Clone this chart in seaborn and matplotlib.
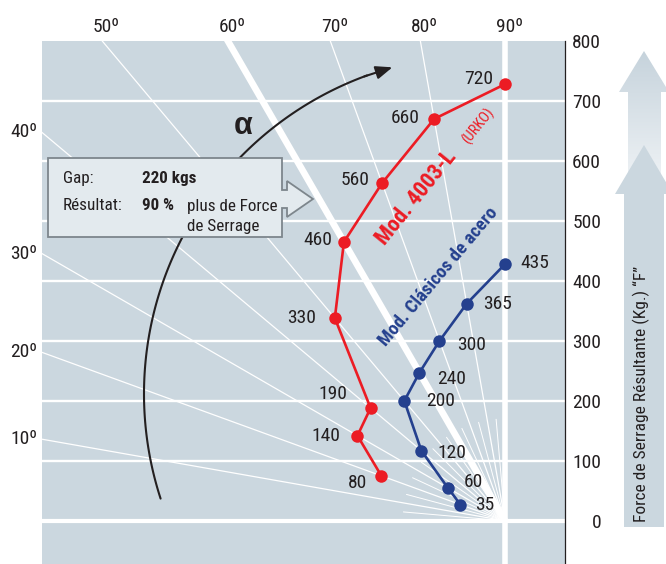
import numpy as np
import pandas as pd
import matplotlib.pyplot as plt
import seaborn as sns
from matplotlib.patches import Polygon
from matplotlib import font_manager

# angle of each measuring point (degrees from horizontal)
ANGLES = [20, 30, 40, 50, 60, 70, 80, 90]

# Mod. 4003-L (URKO): force labels and plotted height on the right axis
URKO_FORCE = [80, 140, 190, 330, 460, 560, 660, 720]
URKO_HEIGHT = [75, 142, 188, 338, 465, 563, 670, 728]

# Mod. Clásicos de acero
CLASSIC_FORCE = [35, 60, 120, 200, 240, 300, 365, 435]
CLASSIC_HEIGHT = [27, 55, 117, 200, 247, 300, 362, 428]

RAY_ANGLES = [10, 20, 30, 40, 50, 60, 70, 80]
SHORT_RAYS = [5, 15, 25, 35, 45, 55, 65, 75, 85]
TOP_ANGLES = [50, 60, 70, 80, 90]
LEFT_ANGLES = [10, 20, 30, 40]
Y_TICKS = [0, 100, 200, 300, 400, 500, 600, 700, 800]

RED = "#ec1c24"
BLUE = "#24408e"
BG = "#cbd7df"
INK = "#231f20"

# label offsets (pixels) relative to each point
URKO_OFFS = [(-24, -7), (-32, 0), (-38, 14), (-33, 0), (-26, 2), (-27, 3), (-29, 1), (-26, 5)]
CLASSIC_OFFS = [(24, 0), (26, 6), (31, -2), (36, 0), (32, -6), (32, -4), (31, 0), (30, 1)]

W, H = 666, 564
X0, X1 = -771.7, 100
Y0, Y1 = -72, 800

sns.set_style("white")
installed = {f.name for f in font_manager.fontManager.ttflist}
narrow = [f for f in ["Roboto Condensed", "Liberation Sans Narrow", "Open Sans Condensed",
                      "Arial Narrow", "DejaVu Sans Condensed"] if f in installed]
condensed = bool(narrow)
plt.rcParams["font.family"] = narrow + ["Liberation Sans", "DejaVu Sans"]
plt.rcParams["text.color"] = INK
k = 1.0 if condensed else 0.88   # shrink a little when only a wide face is available


def polar_xy(angles, heights):
    a = np.radians(angles)
    h = np.asarray(heights, dtype=float)
    return -h * np.cos(a) / np.sin(a), h


def px2data(px, py):
    return X0 + (px - 42) / 0.6, (521 - py) / 0.6


fig = plt.figure(figsize=(W / 100, H / 100), dpi=100)
ax = fig.add_axes([42 / W, 0, 523 / W, 523 / H])
ax.set_facecolor(BG)
ax.set_xlim(X0, X1)
ax.set_ylim(Y0, Y1)

# radial guide lines from the origin
for a in RAY_ANGLES:
    r = np.radians(a)
    ax.plot([0, -3000 * np.cos(r)], [0, 3000 * np.sin(r)], color="white",
            lw=4.8 if a == 60 else 0.9, zorder=1, solid_capstyle="butt")
for a in SHORT_RAYS:
    r = np.radians(a)
    ax.plot([0, -170 * np.cos(r)], [0, 170 * np.sin(r)], color="white", lw=0.7, zorder=1)

for y in Y_TICKS[:-1]:
    ax.axhline(y, color="white", lw=3 if y == 0 else 1.7, zorder=1)
ax.axvline(0, color="white", lw=4, zorder=1)

# data series
ux, uy = polar_xy(ANGLES, URKO_HEIGHT)
cx, cy = polar_xy(ANGLES, CLASSIC_HEIGHT)
df = pd.DataFrame({
    "x": np.concatenate([ux, cx]),
    "y": np.concatenate([uy, cy]),
    "serie": ["urko"] * len(ux) + ["clasico"] * len(cx),
})
sns.lineplot(data=df, x="x", y="y", hue="serie", palette={"urko": RED, "clasico": BLUE},
             sort=False, estimator=None, marker="o", markersize=9, markeredgewidth=0,
             linewidth=1.9, legend=False, ax=ax, zorder=4)

fs_num = 14 * k
for x, y, v, o in zip(ux, uy, URKO_FORCE, URKO_OFFS):
    ax.annotate(str(v), (x, y), xytext=o, textcoords="offset pixels",
                ha="center", va="center", fontsize=fs_num)
for x, y, v, o in zip(cx, cy, CLASSIC_FORCE, CLASSIC_OFFS):
    ax.annotate(str(v), (x, y), xytext=o, textcoords="offset pixels",
                ha="center", va="center", fontsize=fs_num)

# series names
ax.text(*px2data(416, 198), "Mod. 4003-L", color=RED, fontsize=16 * k, fontweight="bold",
        rotation=51, rotation_mode="anchor", ha="center", va="center")
ax.text(*px2data(478, 126), "(URKO)", color=RED, fontsize=10.5 * k,
        rotation=51, rotation_mode="anchor", ha="center", va="center")
ax.text(*px2data(438, 277), "Mod. Clásicos de acero", color=BLUE, fontsize=13.5 * k,
        fontweight="bold", rotation=50, rotation_mode="anchor", ha="center", va="center")

# angle labels
for a in TOP_ANGLES:
    r = np.radians(a)
    ax.annotate(f"{a}º", (-Y1 * np.cos(r) / np.sin(r), Y1), xytext=(4, 14),
                textcoords="offset pixels", ha="center", va="center", fontsize=fs_num,
                annotation_clip=False)
for a in LEFT_ANGLES:
    ax.annotate(f"{a}º", (X0, -X0 * np.tan(np.radians(a))), xytext=(-5, 0),
                textcoords="offset pixels", ha="right", va="center", fontsize=fs_num,
                annotation_clip=False)

# curved alpha arrow
ccx, ccy = px2data(483, 394)
rad = 339 / 0.6
th = np.radians(np.linspace(198, 110, 120))
ax.plot(ccx + rad * np.cos(th), ccy + rad * np.sin(th), color=INK, lw=1.5, zorder=3)
t0, t1 = np.radians(110.5), np.radians(105.5)
ax.annotate("", xy=(ccx + rad * np.cos(t1), ccy + rad * np.sin(t1)),
            xytext=(ccx + rad * np.cos(t0), ccy + rad * np.sin(t0)),
            arrowprops=dict(arrowstyle="-|>,head_length=1.0,head_width=0.4",
                            color=INK, lw=1.5, shrinkA=0, shrinkB=0), zorder=3)
ax.text(*px2data(243, 126), "α", fontsize=22, fontweight="bold", family="Liberation Sans",
        ha="center", va="center")

# right axis
ax.yaxis.tick_right()
ax.set_yticks(Y_TICKS)
ax.tick_params(axis="y", length=0, pad=26, labelsize=fs_num, labelcolor=INK)
for lbl in ax.get_yticklabels():
    lbl.set_horizontalalignment("right")
ax.set_xticks([])
for s in ["left", "top", "bottom"]:
    ax.spines[s].set_visible(False)
ax.spines["right"].set_color(INK)
ax.spines["right"].set_linewidth(0.9)
ax.set_xlabel("")
ax.set_ylabel("")

# overlay in pixel coordinates for the call-out box and the side arrow
deco = fig.add_axes([0, 0, 1, 1])
deco.set_xlim(0, W)
deco.set_ylim(H, 0)
deco.axis("off")
deco.patch.set_alpha(0)

box = [(48, 158), (282, 158), (282, 190), (287, 190), (287, 181), (313, 199),
       (287, 217), (287, 208), (282, 208), (282, 237), (48, 237)]
deco.add_patch(Polygon(box, closed=True, facecolor="#e3eaee", edgecolor="#7d868c", lw=1.3))
fs_box = 12.3 if condensed else 11
deco.text(63, 179, "Gap:", fontsize=fs_box, va="center")
deco.text(142, 179, "220 kgs", fontsize=fs_box, fontweight="bold", va="center")
deco.text(63, 206, "Résultat:", fontsize=fs_box, va="center")
deco.text(142, 206, "90 %", fontsize=fs_box, fontweight="bold", va="center")
deco.text(187, 206, "plus de Force", fontsize=fs_box, va="center")
deco.text(187, 227, "de Serrage", fontsize=fs_box, va="center")

upper = [(628, 180), (628, 92), (619, 92), (644, 51), (669, 92), (661, 92), (661, 180)]
up_patch = Polygon(upper, closed=True, facecolor="none", edgecolor="none")
deco.add_patch(up_patch)
grad = np.linspace(0, 1, 100)[:, None]
img = deco.imshow(grad, extent=[615, 673, 180, 51], cmap=sns.blend_palette(
    ["#c6d3dc", "#eef2f5"], as_cmap=True), aspect="auto", zorder=1)
img.set_clip_path(up_patch)
lower = [(624, 527), (624, 194), (615, 194), (644, 145), (673, 194), (664, 194), (664, 527)]
deco.add_patch(Polygon(lower, closed=True, facecolor=BG, edgecolor="none", zorder=2))
deco.text(641, 394, "Force de Serrage Résultante (Kg.) “F”", rotation=90,
          fontsize=12.5 if condensed else 11, ha="center", va="center", zorder=3)
deco.set_xlim(0, W)
deco.set_ylim(H, 0)

fig.savefig("out.png", dpi=100)
